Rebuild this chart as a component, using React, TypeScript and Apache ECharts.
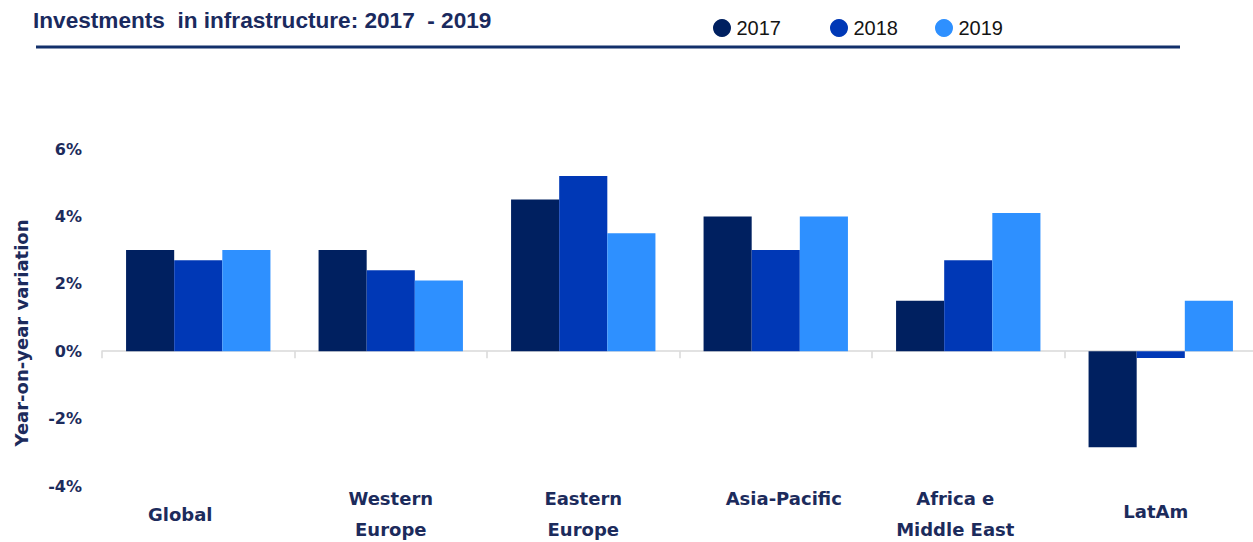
import React, { useEffect, useRef } from "react";
import * as echarts from "echarts";

const regions = [
  "Global",
  "Western\nEurope",
  "Eastern\nEurope",
  "Asia-Pacific",
  "Africa e\nMiddle East",
  "LatAm",
];
const years = ["2017", "2018", "2019"];
const values2017 = [3.0, 3.0, 4.5, 4.0, 1.5, -2.85];
const values2018 = [2.7, 2.4, 5.2, 3.0, 2.7, -0.2];
const values2019 = [3.0, 2.1, 3.5, 4.0, 4.1, 1.5];
const yTicks = [-4, -2, 0, 2, 4, 6];

const colors = ["#002060", "#0038b6", "#2e90ff"];
const navy = "#1c2b5c";

// label offsets (styling only): padding [top, right, bottom, left]
const labelPads: number[][] = [
  [0, 36, 0, 0],
  [0, 0, 0, 0],
  [0, 0, 0, 0],
  [0, 0, 31, 16],
  [0, 26, 0, 0],
  [0, 10, 6, 0],
];

export default function App() {
  const ref = useRef<HTMLDivElement>(null);
  useEffect(() => {
    if (!ref.current) return;
    const chart = echarts.init(ref.current, undefined, { renderer: "svg" });
    const rich: Record<string, any> = {};
    labelPads.forEach((p, i) => {
      rich["c" + i] = {
        fontFamily: "DejaVu Sans",
        fontWeight: "bold",
        fontSize: 18,
        color: navy,
        lineHeight: 31,
        padding: p,
      };
    });
    const seriesValues = [values2017, values2018, values2019];
    const legendLefts = [713, 830, 935];
    chart.setOption({
      animation: false,
      legend: years.map((y, i) => ({
        data: [y],
        left: legendLefts[i],
        top: 18,
        padding: 0,
        icon: "circle",
        itemWidth: 19,
        itemHeight: 18,
        itemGap: 0,
        selectedMode: false,
        textStyle: {
          fontFamily: "Liberation Sans",
          fontSize: 20,
          color: "#141414",
          padding: [3, 0, 0, 0],
        },
      })),
      grid: {
        left: 102,
        top: 149,
        width: 1155,
        height: 337,
        outerBoundsMode: "none",
        containLabel: false,
      },
      xAxis: {
        type: "category",
        data: regions,
        axisLine: { onZero: true, lineStyle: { color: "#d9d9d9", width: 1.5 } },
        axisTick: { show: true, length: 7, lineStyle: { color: "#d9d9d9", width: 1.5 } },
        axisLabel: {
          margin: 28,
          verticalAlign: "middle",
          interval: 0,
          lineHeight: 31,
          formatter: (v: string, i: number) =>
            v
              .split("\n")
              .map((l) => `{c${i}|${l}}`)
              .join("\n"),
          rich,
        },
      },
      yAxis: {
        type: "value",
        min: yTicks[0],
        max: yTicks[yTicks.length - 1],
        interval: 2,
        splitLine: { show: false },
        axisLine: { show: false },
        axisTick: { show: false },
        axisLabel: {
          margin: 20,
          formatter: (v: number) => `${v}%`,
          fontFamily: "DejaVu Sans",
          fontWeight: "bold",
          fontSize: 16,
          color: navy,
        },
      },
      series: years.map((y, i) => ({
        name: y,
        type: "bar",
        data: seriesValues[i],
        barGap: "0%",
        barCategoryGap: "25%",
        itemStyle: {
          color: colors[i],
        },
      })),
      color: colors,
      graphic: [
        {
          type: "text",
          left: 33,
          top: 9,
          style: {
            text: "Investments  in infrastructure: 2017  - 2019",
            fontFamily: "Liberation Sans",
            fontWeight: "bold",
            fontSize: 22.6,
            fill: "#1a2a5e",
          },
        },
        {
          type: "line",
          shape: { x1: 36, y1: 47, x2: 1180, y2: 47 },
          style: { stroke: "#13306b", lineWidth: 3 },
        },
        {
          type: "text",
          x: 21,
          y: 333,
          rotation: Math.PI / 2,
          style: {
            text: "Year-on-year variation",
            fontFamily: "DejaVu Sans",
            fontWeight: "bold",
            fontSize: 18,
            fill: navy,
            align: "center",
            verticalAlign: "middle",
          },
        },
      ],
    });
    return () => chart.dispose();
  }, []);
  return (
    <div
      ref={ref}
      style={{ position: "absolute", left: 0, top: 0, width: 1253, height: 542 }}
    />
  );
}
